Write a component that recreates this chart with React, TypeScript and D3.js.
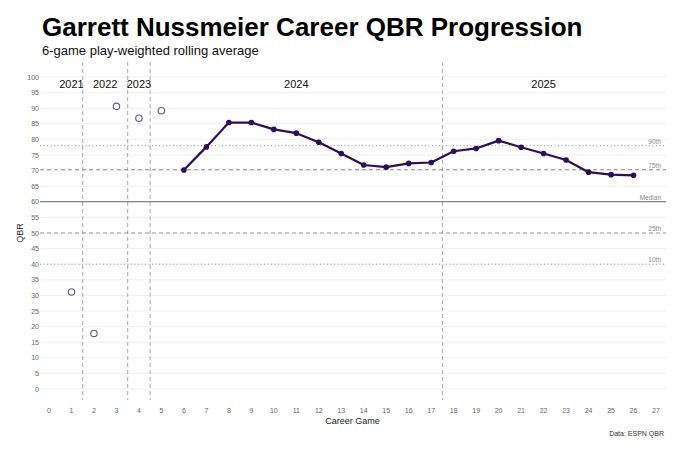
import React from 'react';
import * as d3 from 'd3';

// Career game numbers and QBR (6-game play-weighted rolling average)
const earlyGames = [1, 2, 3, 4, 5];
const earlyQbr = [31.1, 17.8, 90.6, 86.8, 89.2];
const rollingGames = [6, 7, 8, 9, 10, 11, 12, 13, 14, 15, 16, 17, 18, 19, 20, 21, 22, 23, 24, 25, 26];
const rollingQbr = [70.2, 77.6, 85.4, 85.4, 83.2, 82.0, 79.1, 75.5, 71.8, 71.1, 72.3, 72.6, 76.2, 77.1, 79.6, 77.5, 75.5, 73.4, 69.5, 68.7, 68.5];

const seasonBreaks = [1.5, 3.5, 4.5, 17.5];
const seasonLabels = ['2021', '2022', '2023', '2024', '2025'];
const seasonCenters = [1, 2.5, 4, 11, 22];

const refNames = ['90th', '75th', 'Median', '25th', '10th'];
const refValues = [78, 70.3, 60, 50, 40];
const refDash = ['1,2.5', '4,3', '', '4,3', '1,2.5'];

const xTicks = d3.range(0, 28);
const yTicks = d3.range(0, 101, 5);

const W = 680;
const H = 454;
const panel = { left: 40, right: 666, top: 62, bottom: 400 };

export default function App() {
  const x = d3.scaleLinear().domain([0, 27]).range([49, 656]);
  const y = d3.scaleLinear().domain([0, 100]).range([389, 77]);
  const rolling = rollingGames.map((g, i) => ({ g, v: rollingQbr[i] }));
  const early = earlyGames.map((g, i) => ({ g, v: earlyQbr[i] }));
  const line = d3.line<{ g: number; v: number }>().x(d => x(d.g)).y(d => y(d.v));
  const font = '"Liberation Sans", Arial, sans-serif';

  return (
    <svg width={W} height={H} style={{ position: 'absolute', left: 0, top: 0, background: '#fff' }} fontFamily={font}>
      <text x={42} y={36} fontSize={26} fontWeight="bold" fill="#000">Garrett Nussmeier Career QBR Progression</text>
      <text x={42} y={55} fontSize={13} fill="#111">6-game play-weighted rolling average</text>

      {/* horizontal grid */}
      {yTicks.map(t => (
        <line key={t} x1={panel.left} x2={panel.right} y1={y(t)} y2={y(t)} stroke="#ebebeb" strokeWidth={0.7} />
      ))}
      {yTicks.map(t => (
        <text key={'l' + t} x={39} y={y(t) + 2.5} fontSize={7} fill="#666" textAnchor="end">{t}</text>
      ))}

      {/* season separators */}
      {seasonBreaks.map(b => (
        <line key={b} x1={x(b)} x2={x(b)} y1={panel.top} y2={panel.bottom} stroke="#aaa" strokeWidth={1} strokeDasharray="4,3" />
      ))}
      {seasonLabels.map((s, i) => (
        <text key={s} x={x(seasonCenters[i])} y={88} fontSize={11} fill="#111" textAnchor="middle">{s}</text>
      ))}

      {/* percentile reference lines */}
      {refNames.map((n, i) => (
        <g key={n}>
          <line x1={panel.left} x2={panel.right} y1={y(refValues[i])} y2={y(refValues[i])}
            stroke={n === 'Median' ? '#666' : '#888'} strokeWidth={n === 'Median' ? 1.1 : 0.9}
            strokeDasharray={refDash[i] || undefined} />
          <text x={661} y={y(refValues[i]) - 2} fontSize={6.5} fill="#888" textAnchor="end">{n}</text>
        </g>
      ))}

      {/* early games: open circles */}
      {early.map(d => (
        <circle key={d.g} cx={x(d.g)} cy={y(d.v)} r={3.2} fill="#fff" stroke="#6b5b9a" strokeWidth={1.2} />
      ))}

      {/* rolling average */}
      <path d={line(rolling) || ''} fill="none" stroke="#2e0c5e" strokeWidth={2.2} strokeLinejoin="round" />
      {rolling.map(d => (
        <circle key={d.g} cx={x(d.g)} cy={y(d.v)} r={2.8} fill="#2e0c5e" />
      ))}

      {/* x axis */}
      {xTicks.map(t => (
        <text key={t} x={x(t)} y={413} fontSize={7} fill="#666" textAnchor="middle">{t}</text>
      ))}
      <text x={x(13.5)} y={424} fontSize={9} fill="#222" textAnchor="middle">Career Game</text>
      <text x={20} y={y(50)} fontSize={9} fill="#222" textAnchor="middle" transform={`rotate(-90, 20, ${y(50)})`} dy={3}>QBR</text>
      <text x={664} y={436} fontSize={7} fill="#333" textAnchor="end">Data: ESPN QBR</text>
    </svg>
  );
}
